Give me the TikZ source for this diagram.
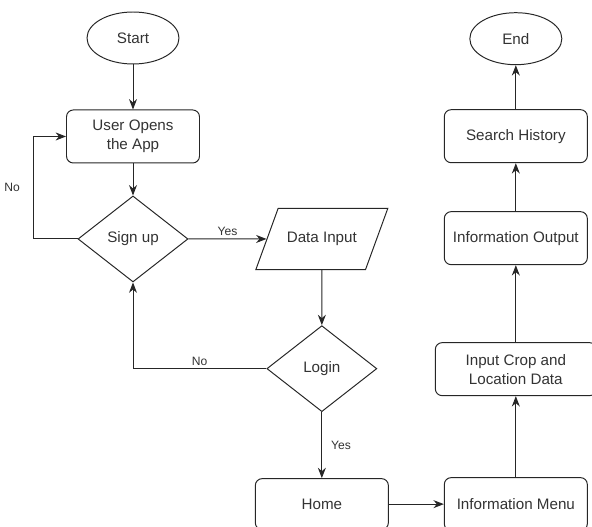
\documentclass[tikz,border=0pt]{standalone}
\usepackage{fontspec}
\setmainfont{Liberation Sans}
\usetikzlibrary{shapes,arrows.meta,calc,positioning}

\tikzset{
  base/.style={draw=black!85, line width=0.7pt, text=black!80, align=center, inner sep=0pt,
    font=\fontsize{10.8}{13.5}\selectfont},
  terminal/.style={base, ellipse, minimum width=2.3cm, minimum height=1.3cm},
  process/.style={base, rectangle, rounded corners=0.17cm, minimum width=3.575cm, minimum height=1.325cm},
  decision/.style={base, diamond, shape aspect=1.28, minimum width=2.75cm, minimum height=2.15cm},
  io/.style={base, trapezium, trapezium left angle=70, trapezium right angle=110,
    trapezium stretches body=true, minimum width=3.3cm, inner ysep=17pt},
  arrow/.style={draw=black!85, line width=0.7pt, -{Stealth[length=2.6mm,width=2mm]}},
  lbl/.style={text=black!80, font=\fontsize{8.6}{10}\selectfont}
}

\begin{document}
\begin{tikzpicture}
  % page frame, start node sits at the origin
  \useasboundingbox (-3.325,0.95) rectangle (11.475,-12.225);

  \node[terminal] (start) at (0,0) {Start};
  \node[process, minimum width=3.325cm, below = 1.125cm of start] (user) {User Opens\\the App};
  \node[decision, below = 0.8cm of user] (signup) {Sign up};
  \node[io, right = 1.95cm of signup] (data) {Data Input};
  \node[decision, below = 1.375cm of data] (login) {Login};
  \node[process, minimum width=3.325cm, minimum height=1.275cm, below = 1.65cm of login] (home) {Home};
  \node[process, right = 1.375cm of home] (menu) {Information Menu};
  \node[process, minimum width=4.025cm, above = 2.025cm of menu] (crop) {Input Crop and\\Location Data};
  \node[process, above = 1.925cm of crop] (output) {Information Output};
  \node[process, above = 1.2cm of output] (search) {Search History};
  \node[terminal, above = 1.1cm of search] (end) {End};

  \draw[arrow] (start) -- (user);
  \draw[arrow] (user) -- (signup);
  \draw[arrow] (signup) -- (data) node [lbl,midway,above=-1.5pt] {Yes};
  \draw[arrow] (signup.west) -- ++(-1.1,0) |- (user.west) node [lbl,pos=0.25,left=6pt] {No};
  \draw[arrow] (data) -- (login);
  \draw[arrow] (login.west) -| (signup.south) node [lbl,pos=0.25,above=-1.5pt] {No};
  \draw[arrow] (login) -- (home) node [lbl,midway,right=3pt] {Yes};
  \draw[arrow] (home) -- (menu);
  \draw[arrow] (menu) -- (crop);
  \draw[arrow] (crop) -- (output);
  \draw[arrow] (output) -- (search);
  \draw[arrow] (search) -- (end);
\end{tikzpicture}
\end{document}
